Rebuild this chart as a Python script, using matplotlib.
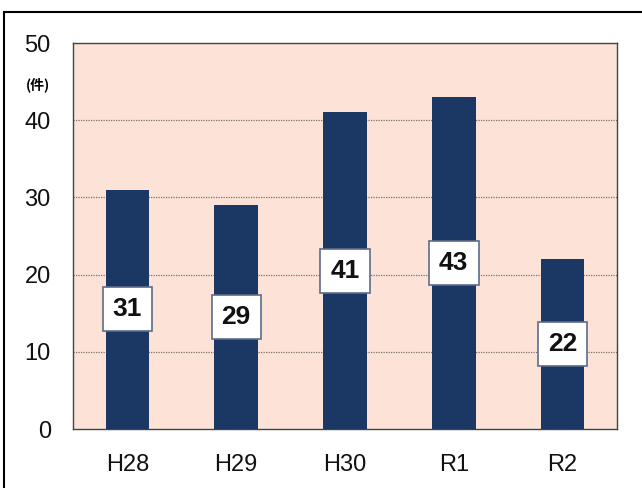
import numpy as np
import matplotlib
matplotlib.use('Agg')
import matplotlib.pyplot as plt
from matplotlib.patches import Rectangle

# data
years = ['H28', 'H29', 'H30', 'R1', 'R2']
counts = [31, 29, 41, 43, 22]
yticks = [0, 10, 20, 30, 40, 50]

plt.rcParams['font.family'] = ['Liberation Sans', 'DejaVu Sans']

fig = plt.figure(figsize=(6.42, 4.88), dpi=100)
ax = fig.add_axes([73/642, 1-429/488, 544/642, 386/488])

ax.set_facecolor('#FDE3D7')
x = np.arange(len(years))
ax.bar(x, counts, width=0.4, color='#1B3764', zorder=3)

ax.set_xlim(-0.5, len(years)-0.5)
ax.set_ylim(0, 50)
ax.set_yticks(yticks)
ax.set_xticks(x)
ax.set_xticklabels(years)
ax.tick_params(axis='both', length=0, labelsize=17, colors='#111111')
ax.tick_params(axis='y', pad=16)
ax.tick_params(axis='x', pad=18)

for v in yticks[1:-1]:
    ax.axhline(v, color='#7a6e6a', linestyle=(0, (1, 1)), linewidth=0.9, zorder=1)

for s in ax.spines.values():
    s.set_color('#444444')
    s.set_linewidth(1.0)

# value labels
for xi, v in zip(x, counts):
    ax.text(xi, v/2, str(v), ha='center', va='center', fontsize=19,
            fontweight='bold', color='#111111', zorder=4,
            bbox=dict(boxstyle='square,pad=0.38', facecolor='white',
                      edgecolor='#5B6C8A', linewidth=1.2))

fig.text(38/642, 1-85/488, '(件)', ha='center', va='center', fontsize=10,
         fontweight='bold', family=['Noto Sans CJK JP', 'DejaVu Sans'])

# outer frame
fig.patches.append(Rectangle((4/642, -0.1), 1.2, (1-12/488)+0.1,
                             transform=fig.transFigure, fill=False,
                             edgecolor='black', linewidth=1.5))

fig.savefig('out.png', dpi=100)
